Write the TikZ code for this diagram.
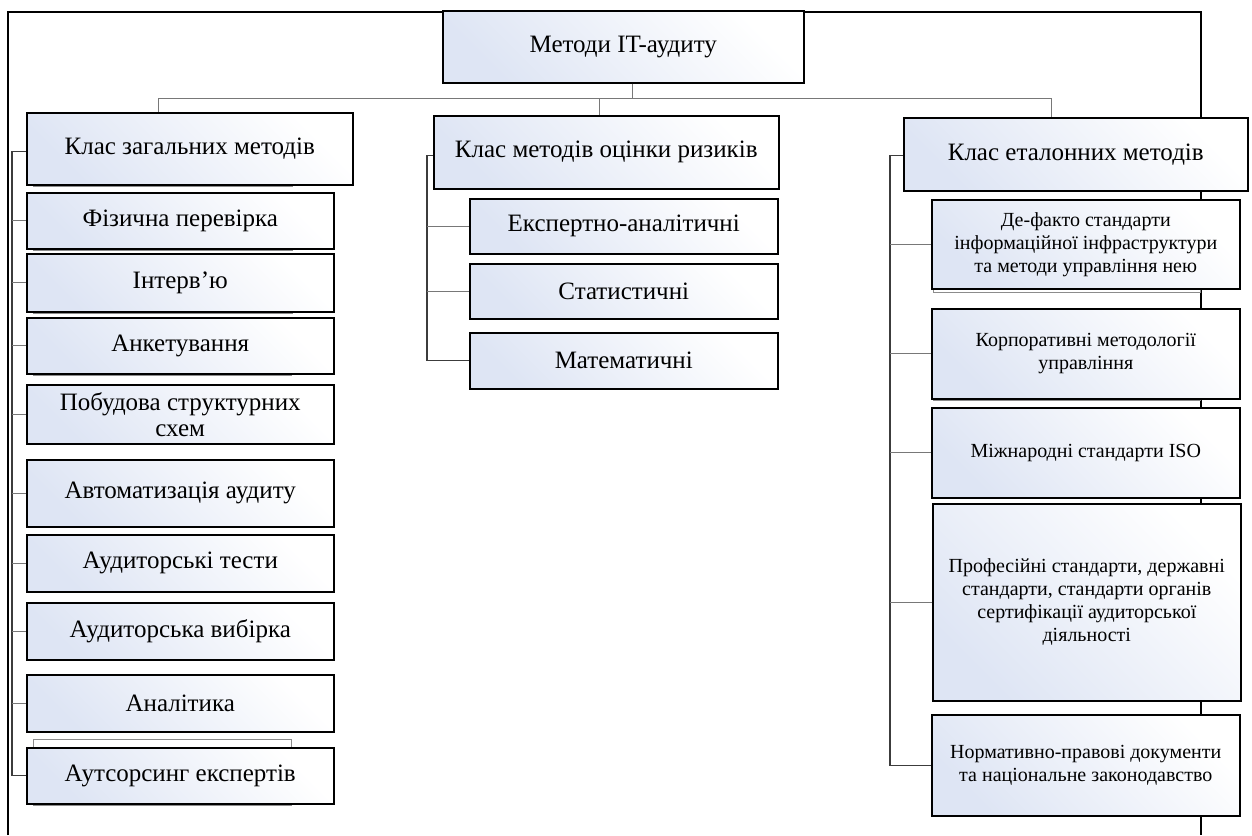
\documentclass[tikz,border=0pt]{standalone}
\usepackage{fontspec}
\setmainfont{Liberation Serif}
\usetikzlibrary{shadows}
\definecolor{boxblue}{RGB}{222,229,244}
\definecolor{conngray}{RGB}{120,120,120}
\definecolor{spinegray}{RGB}{60,60,60}
\newcommand\bigf{\fontsize{25}{26}\selectfont}
\newcommand\smallf{\fontsize{20}{23}\selectfont}
\begin{document}
\begin{tikzpicture}[x=1pt,y=-1pt,
  box/.style={draw=black, line width=1.5pt, top color=boxblue, bottom color=white, shading angle=135,
    align=center, inner sep=2pt, anchor=north west, font=\bigf,
    drop shadow={shadow xshift=1.5pt, shadow yshift=-1.5pt, fill=black, opacity=0.2}},
  sbox/.style={box, font=\smallf},
  frameline/.style={draw=black, line width=1.8pt},
  conn/.style={draw=conngray, line width=1pt},
  spine/.style={draw=spinegray, line width=1.4pt},
  branch/.style={draw=conngray, line width=1pt},
  ghost/.style={draw=black!45, line width=0.9pt, fill=white}
]
\useasboundingbox (0,0) rectangle (1252,835);

% outer frame
\draw[frameline] (8,835) -- (8,12) -- (1201,12) -- (1201,835);

% ghost boxes behind
\draw[ghost] (33,150) rectangle (292,186);
\draw[ghost] (33,200) rectangle (292,250);
\draw[ghost] (33,262) rectangle (292,313);
\draw[ghost] (33,325) rectangle (291,375);
\draw[ghost] (33,739) rectangle (291,805);
\draw[ghost] (933,250) rectangle (1200,292);
\draw[ghost] (933,350) rectangle (1200,400);

% top
\node[box, minimum width=361pt, minimum height=72pt] (top) at (442,10) {Методи IT-аудиту};

% classes
\node[box, minimum width=326pt, minimum height=72pt] (cl) at (26,112) {Клас загальних методів};
\node[box, minimum width=345pt, minimum height=73pt] (cm) at (433,115) {Клас методів оцінки ризиків};
\node[box, minimum width=344pt, minimum height=73pt] (cr) at (903,117) {Клас еталонних методів};

% left children
\node[box, minimum width=307pt, minimum height=56pt] (l1) at (26,192) {Фізична перевірка};
\node[box, minimum width=307pt, minimum height=58pt] (l2) at (26,253) {Інтерв’ю};
\node[box, minimum width=307pt, minimum height=56pt] (l3) at (26,317) {Анкетування};
\node[box, minimum width=307pt, minimum height=59pt] (l4) at (26,384) {Побудова структурних\\схем};
\node[box, minimum width=307pt, minimum height=67pt] (l5) at (26,459) {Автоматизація аудиту};
\node[box, minimum width=307pt, minimum height=57pt] (l6) at (26,534) {Аудиторські тести};
\node[box, minimum width=307pt, minimum height=57pt] (l7) at (26,602) {Аудиторська вибірка};
\node[box, minimum width=307pt, minimum height=57pt] (l8) at (26,674) {Аналітика};
\node[box, minimum width=307pt, minimum height=56pt] (l9) at (26,747) {Аутсорсинг експертів};

% middle children
\node[box, minimum width=308pt, minimum height=55pt] (m1) at (469,198) {Експертно-аналітичні};
\node[box, minimum width=308pt, minimum height=55pt] (m2) at (469,263) {Статистичні};
\node[box, minimum width=308pt, minimum height=56pt] (m3) at (469,332) {Математичні};

% right children
\node[sbox, minimum width=308pt, minimum height=89pt] (r1) at (931,199) {Де-факто стандарти\\інформаційної інфраструктури\\та методи управління нею};
\node[sbox, minimum width=308pt, minimum height=90pt] (r2) at (931,308) {Корпоративні методології\\управління};
\node[sbox, minimum width=308pt, minimum height=90pt] (r3) at (931,407) {Міжнародні стандарти ISO};
\node[sbox, minimum width=308pt, minimum height=197pt] (r4) at (932,503) {Професійні стандарти, державні\\стандарти, стандарти органів\\сертифікації аудиторської\\діяльності};
\node[sbox, minimum width=308pt, minimum height=101pt] (r5) at (931,714) {Нормативно-правові документи\\та національне законодавство};

% tree connectors
\coordinate (bar) at (0,98);
\coordinate (sl) at (12,0);
\coordinate (sm) at (427,0);
\coordinate (sr) at (890,0);

\draw[conn] ([xshift=9pt]top.south) -- ([xshift=9pt]top.south |- bar);
\draw[conn] ([xshift=-31pt]cl.north) -- ([xshift=-31pt]cl.north |- bar) -- ([xshift=-24pt]cr.north |- bar) -- ([xshift=-24pt]cr.north);
\draw[conn] ([xshift=-6.5pt]cm.north) -- ([xshift=-6.5pt]cm.north |- bar);

% left spine
\draw[spine] ([yshift=-3pt]cl.west) -| (l9.west -| sl) -- (l9.west);
\foreach \i in {1,...,8} \draw[branch] (l\i.west -| sl) -- (l\i.west);

% middle spine
\draw[spine] ([yshift=-3pt]cm.west) -| (m3.west -| sm) -- (m3.west);
\foreach \i in {1,2} \draw[branch] (m\i.west -| sm) -- (m\i.west);

% right spine
\draw[spine] ([yshift=-1pt]cr.west) -| (r5.west -| sr) -- (r5.west);
\foreach \i in {1,...,4} \draw[branch] (r\i.west -| sr) -- (r\i.west);
\end{tikzpicture}
\end{document}
